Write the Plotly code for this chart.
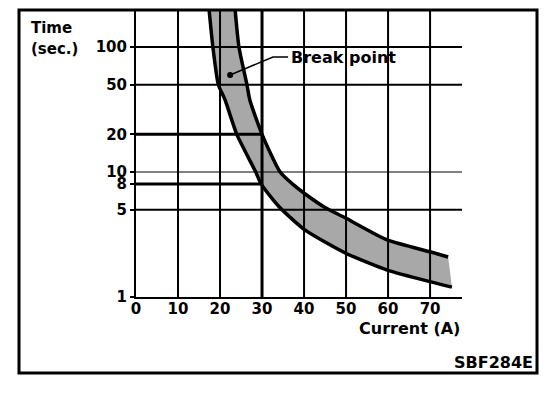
import plotly.graph_objects as go

# ---- data ----
upper_current = [23.6, 24.5, 26.4, 27.1, 30.0, 34.3, 37.3, 40.2, 45.0, 49.8, 59.8, 70.2, 74.3]
upper_time    = [198, 100, 50, 37.7, 20, 10, 8.0, 6.7, 5.2, 4.3, 2.86, 2.29, 2.09]
lower_current = [17.4, 18.3, 19.6, 21.2, 24.0, 28.5, 29.8, 34.0, 40.2, 49.8, 59.8, 70.2, 75.2]
lower_time    = [198, 100, 50, 37.7, 20, 10, 8.0, 5.3, 3.44, 2.25, 1.64, 1.32, 1.20]

x_ticks = [0, 10, 20, 30, 40, 50, 60, 70]
y_ticks = [1, 5, 8, 10, 20, 50, 100]
y_tick_text = ["1", "5", "8", "10", "20", "50", "100"]

v_grid = [10, 20, 30, 40, 50, 60, 70]
v_grid_width = [2, 2, 3, 2, 2, 2, 2]
h_grid = [5, 10, 50, 100]
h_grid_width = [2, 1.2, 2, 2]
ref_times = [20, 8]          # reference lines drawn to 30 A
ref_current = 30

leader_current = [22.4, 32.6, 36.2]
leader_time = [59.7, 83.2, 83.2]

X_MAX = 77.6
Y_LOG_MAX = 2.296
Y_TOP = 10 ** Y_LOG_MAX

FONT = "DejaVu Sans"

fig = go.Figure()

# band fill (drawn first, underneath the grid)
fig.add_trace(go.Scatter(x=lower_current, y=lower_time, mode="lines",
                         line=dict(width=0, color="rgba(0,0,0,0)", shape="spline", smoothing=0.6),
                         hoverinfo="skip", showlegend=False))
fig.add_trace(go.Scatter(x=upper_current, y=upper_time, mode="lines", fill="tonexty",
                         line=dict(width=0, color="rgba(0,0,0,0)", shape="spline", smoothing=0.6),
                         fillcolor="#a8a8a8",
                         hoverinfo="skip", showlegend=False))

# vertical grid lines
for xv, w in zip(v_grid, v_grid_width):
    fig.add_trace(go.Scatter(x=[xv, xv], y=[1, Y_TOP], mode="lines",
                             line=dict(color="black", width=w),
                             hoverinfo="skip", showlegend=False))
# horizontal grid lines
for yv, w in zip(h_grid, h_grid_width):
    fig.add_trace(go.Scatter(x=[0, X_MAX], y=[yv, yv], mode="lines",
                             line=dict(color="black", width=w),
                             hoverinfo="skip", showlegend=False))
# reference lines 20 s and 8 s to 30 A
for yv in ref_times:
    fig.add_trace(go.Scatter(x=[0, ref_current], y=[yv, yv], mode="lines",
                             line=dict(color="black", width=3),
                             hoverinfo="skip", showlegend=False))

# curves
fig.add_trace(go.Scatter(x=upper_current, y=upper_time, mode="lines",
                         line=dict(color="black", width=3.5, shape="spline", smoothing=0.6),
                         hoverinfo="skip", showlegend=False))
fig.add_trace(go.Scatter(x=lower_current, y=lower_time, mode="lines",
                         line=dict(color="black", width=3.5, shape="spline", smoothing=0.6),
                         hoverinfo="skip", showlegend=False))

# break point leader
fig.add_trace(go.Scatter(x=leader_current, y=leader_time, mode="lines",
                         line=dict(color="black", width=1.5),
                         hoverinfo="skip", showlegend=False))
fig.add_trace(go.Scatter(x=leader_current[:1], y=leader_time[:1], mode="markers",
                         marker=dict(color="black", size=6),
                         hoverinfo="skip", showlegend=False))

# page has an 8px body margin: lay out in shifted coordinates
OFF = 8
W, H = 560 - 2 * OFF, 394 - 2 * OFF
PL, PR, PT, PB = 136 - OFF, 462 - OFF, 10 - OFF, 297 - OFF
L, R, T, B = PL, W - PR, PT, H - PB
pw, ph = PR - PL, PB - PT

def px(xp):
    return (xp - OFF - PL) / pw

def py(yp):
    return (PB - (yp - OFF)) / ph

bold = dict(family=FONT, size=15, color="black", weight="bold")
big = dict(family=FONT, size=16, color="black", weight="bold")

fig.update_layout(
    width=W, height=H,
    margin=dict(l=L, r=R, t=T, b=B, pad=0),
    paper_bgcolor="white", plot_bgcolor="white",
    xaxis=dict(range=[0, X_MAX], tickvals=x_ticks, showgrid=False, zeroline=False,
               showline=True, linecolor="black", linewidth=2, ticks="",
               tickfont=bold, ticklabelstandoff=-3, fixedrange=True),
    yaxis=dict(type="log", range=[0, Y_LOG_MAX], tickvals=y_ticks, ticktext=y_tick_text,
               showgrid=False, zeroline=False, showline=True, linecolor="black",
               linewidth=2, ticks="outside", ticklen=4, tickwidth=2, tickcolor="black",
               tickfont=bold, ticklabelstandoff=0, fixedrange=True),
    shapes=[dict(type="rect", xref="paper", yref="paper",
                 x0=px(19), x1=px(537), y0=py(373), y1=py(10),
                 line=dict(color="black", width=3))],
    annotations=[
        dict(text="Time", xref="paper", yref="paper", x=px(29), y=py(28),
             xanchor="left", yanchor="middle", showarrow=False, font=bold),
        dict(text="(sec.)", xref="paper", yref="paper", x=px(29), y=py(49),
             xanchor="left", yanchor="middle", showarrow=False, font=bold),
        dict(text="Break point", xref="paper", yref="paper", x=px(289), y=py(58),
             xanchor="left", yanchor="middle", showarrow=False, font=big),
        dict(text="Current (A)", xref="paper", yref="paper", x=px(357), y=py(328),
             xanchor="left", yanchor="middle", showarrow=False, font=big),
        dict(text="SBF284E", xref="paper", yref="paper", x=px(535), y=py(362),
             xanchor="right", yanchor="middle", showarrow=False, font=big),
    ],
)

fig.write_html("out.html")
